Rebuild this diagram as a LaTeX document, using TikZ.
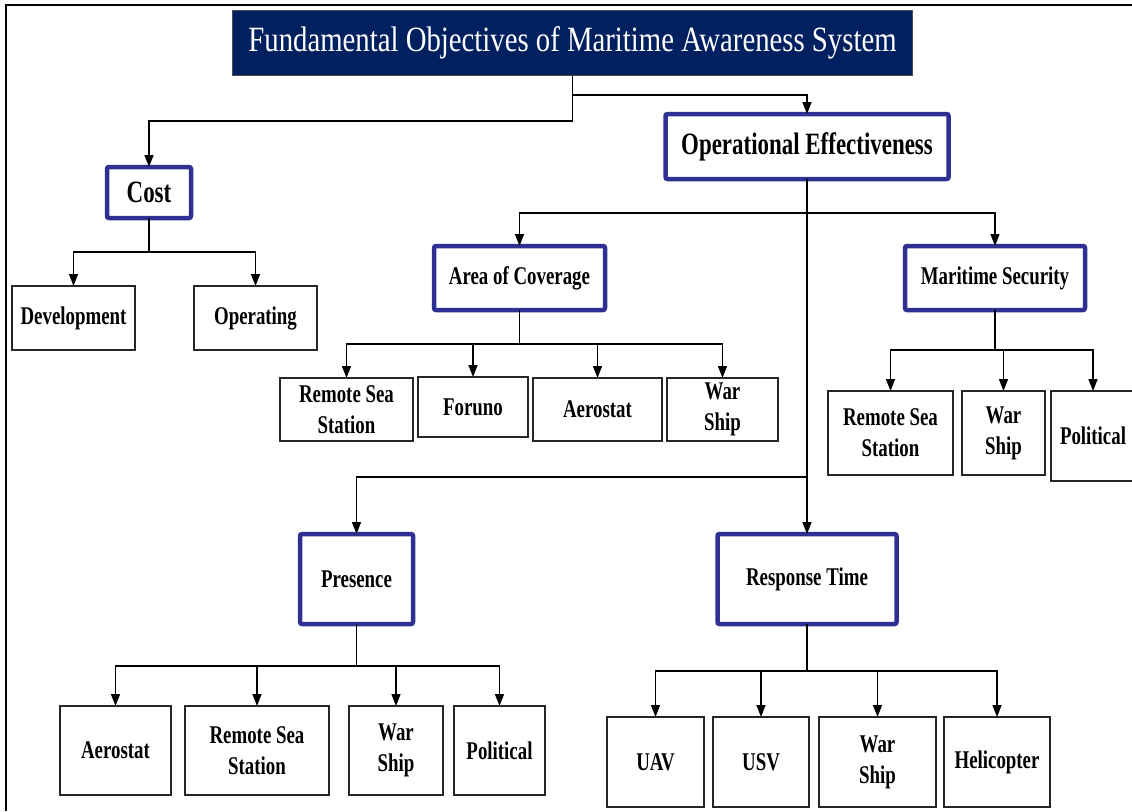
\documentclass[tikz,border=0pt]{standalone}
\usepackage{fontspec}
\setmainfont{Liberation Serif}[FakeStretch=0.74]
\newfontfamily\headlinefont{Liberation Serif}[FakeStretch=0.81]
\usetikzlibrary{arrows.meta,calc}
\definecolor{navy}{HTML}{002060}
\definecolor{boxblue}{HTML}{2E3192}

\begin{document}
\begin{tikzpicture}[x=1pt,y=-1pt,
  every node/.style={inner sep=0pt, outer sep=0pt, align=center},
  leaf/.style={draw=black!85, line width=1.6pt, fill=white,
    font=\fontsize{25.5}{31}\selectfont\bfseries},
  head/.style={draw=boxblue, line width=4.5pt, rounded corners=2pt, fill=white,
    font=\fontsize{25.5}{31}\selectfont\bfseries},
  bighead/.style={head, font=\fontsize{31}{36}\selectfont\bfseries},
  titlebox/.style={draw=black!70, line width=1pt, fill=navy, text=white,
    font=\headlinefont\fontsize{35.5}{40}\selectfont},
  link/.style={draw=black, line width=1.5pt},
  arr/.style={link, -{Triangle[width=9pt,length=12pt]}},
]
\useasboundingbox (0,0) rectangle (1132,811);

% outer frame
\draw[line width=2.5pt] (6,811) -- (6,5) -- (1132,5);

% title and first level
\node[titlebox, minimum width=680, minimum height=65] (title) at (572.5,43) {\raisebox{-2pt}{Fundamental Objectives of Maritime Awareness System}};
\node[bighead, minimum width=283, minimum height=65] (OE) at (807,146.5) {Operational Effectiveness};
\node[bighead, minimum width=84, minimum height=51] (cost) at (149,192.5) {Cost};

% cost branch
\node[leaf, minimum width=123, minimum height=64] (dev) at (73.5,318) {Development};
\node[leaf, minimum width=123, minimum height=64] (oper) at (255.5,318) {Operating};

% operational effectiveness branches
\node[head, minimum width=171, minimum height=64] (aoc) at (519.5,278) {Area of Coverage};
\node[head, minimum width=180, minimum height=64] (ms) at (995,278) {Maritime Security};
\node[head, minimum width=113, minimum height=90] (pres) at (356.5,579) {Presence};
\node[head, minimum width=179, minimum height=90] (rt) at (807,579) {Response Time};

% area of coverage leaves
\node[leaf, minimum width=133, minimum height=63] (a1) at (346.5,409.5) {Remote Sea\\Station};
\node[leaf, minimum width=110, minimum height=60] (a2) at (473,407) {Foruno};
\node[leaf, minimum width=129, minimum height=63] (a3) at (597.5,409.5) {Aerostat};
\node[leaf, minimum width=111, minimum height=63] (a4) at (722.5,409.5) {War\\Ship};

% maritime security leaves
\node[leaf, minimum width=125, minimum height=84] (m1) at (890.5,433) {Remote Sea\\Station};
\node[leaf, minimum width=83, minimum height=84] (m2) at (1003.5,433) {War\\Ship};
\node[leaf, minimum width=84, minimum height=90] (m3) at (1093,436) {Political};

% presence leaves
\node[leaf, minimum width=111, minimum height=89] (p1) at (115.5,750.5) {Aerostat};
\node[leaf, minimum width=144, minimum height=89] (p2) at (257,750.5) {Remote Sea\\Station};
\node[leaf, minimum width=94, minimum height=89] (p3) at (396,750.5) {War\\Ship};
\node[leaf, minimum width=91, minimum height=89] (p4) at (499.5,750.5) {Political};

% response time leaves
\node[leaf, minimum width=97, minimum height=90] (r1) at (655.5,762) {UAV};
\node[leaf, minimum width=96, minimum height=90] (r2) at (761,762) {USV};
\node[leaf, minimum width=117, minimum height=90] (r3) at (877.5,762) {War\\Ship};
\node[leaf, minimum width=106, minimum height=90] (r4) at (997,762) {Helicopter};

% junction points of the connectors
\coordinate (tjOE) at (572.5,95);
\coordinate (tjC) at (572.5,121);
\coordinate (cj) at (149,252);
\coordinate (oej) at (807,213);
\coordinate (pj) at (807,477);
\coordinate (aj) at (519.5,344);
\coordinate (mj) at (995,350);
\coordinate (prj) at (356.5,666);
\coordinate (rj) at (807,671);

% title connectors
\draw[link] (title.south) -- (tjC);
\draw[arr] (tjC) -| (cost.north);
\draw[arr] (tjOE) -| (OE.north);

% cost connectors
\draw[link] (cost.south) -- (cj);
\draw[arr] (cj) -| (dev.north);
\draw[arr] (cj) -| (oper.north);

% operational effectiveness connectors
\draw[arr] (OE.south) -- (rt.north);
\draw[arr] (oej) -| (aoc.north);
\draw[arr] (oej) -| (ms.north);
\draw[arr] (pj) -| (pres.north);

% area of coverage connectors
\draw[link] (aoc.south) -- (aj);
\foreach \n in {a1,a2,a3,a4} \draw[arr] (aj) -| (\n.north);

% maritime security connectors
\draw[link] (ms.south) -- (mj);
\foreach \n in {m1,m2,m3} \draw[arr] (mj) -| (\n.north);

% presence connectors
\draw[link] (pres.south) -- (prj);
\foreach \n in {p1,p2,p3,p4} \draw[arr] (prj) -| (\n.north);

% response time connectors
\draw[link] (rt.south) -- (rj);
\foreach \n in {r1,r2,r3,r4} \draw[arr] (rj) -| (\n.north);
\end{tikzpicture}
\end{document}
